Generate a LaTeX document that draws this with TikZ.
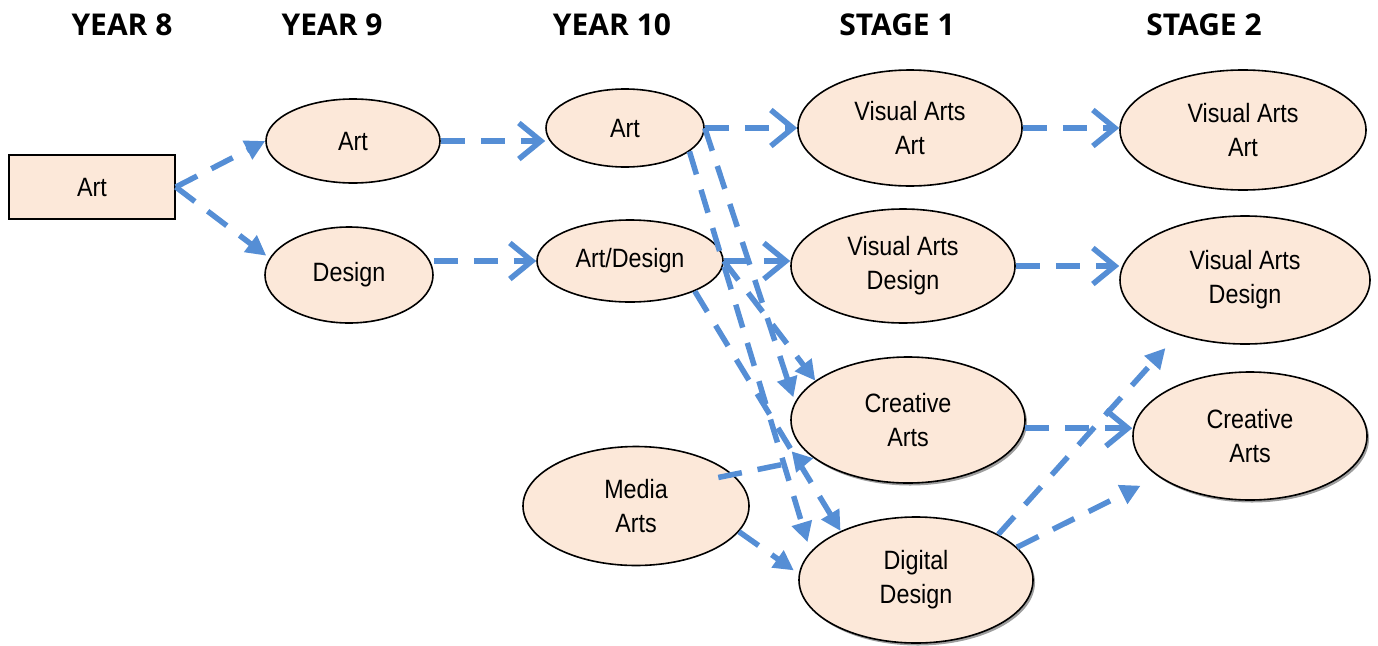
\documentclass[tikz,border=0pt]{standalone}
\usepackage{fontspec}
\newfontfamily\nodefont{Liberation Sans}[FakeStretch=0.88]
\newfontfamily\headfont{Open Sans}
\usetikzlibrary{arrows.meta,calc,shapes.geometric,shadows}
\definecolor{arrowblue}{RGB}{85,142,213}
\definecolor{nodefill}{RGB}{252,232,217}
\begin{document}
\begin{tikzpicture}[x=1pt,y=-1pt,
  box/.style={draw=black, line width=1.6pt, fill=nodefill,
    font=\nodefont\fontsize{26.5}{34}\selectfont, align=center, inner sep=0pt},
  oval/.style 2 args={box, ellipse, minimum width=#1, minimum height=#2},
  shadowed/.style={drop shadow={shadow xshift=2pt, shadow yshift=-2.5pt, fill=black!38, opacity=1}},
  head/.style={font=\headfont\bfseries\fontsize{30}{36}\selectfont, inner sep=0pt, anchor=base},
  conn/.style={draw=arrowblue, line width=5.5pt, dash pattern=on 24pt off 16pt},
  chev/.style={conn, -{Straight Barb[length=22pt,width=36pt,line width=5.5pt]}},
  tri/.style={conn, -{Triangle[length=20pt,width=20pt]}}
]
\useasboundingbox (0,0) rectangle (1378,645);

% headers
\node[head] (h1) at (122,35) {YEAR 8};
\node[head] (h2) at (332,35) {YEAR 9};
\node[head] (h3) at (612,35) {YEAR 10};
\node[head] (h4) at (897,35) {STAGE 1};
\node[head] (h5) at (1204,35) {STAGE 2};

% nodes
\node[box, minimum width=166pt, minimum height=64pt] (y8) at (92,187) {Art};
\node[oval={174pt}{84pt}] (y9a) at (353,141) {Art};
\node[oval={168pt}{96pt}] (y9d) at (349,275) {Design};
\node[oval={158pt}{78pt}] (y10a) at (625,128) {Art};
\node[oval={186pt}{82pt}] (y10d) at (630,261) {Art/Design};
\node[oval={226pt}{119pt}] (med) at (636,506) {Media\\Arts};
\node[oval={224pt}{116pt}] (s1a) at (910,128) {Visual Arts\\Art};
\node[oval={224pt}{114pt}] (s1d) at (903,266) {Visual Arts\\Design};
\node[oval={234pt}{126pt}, shadowed] (s1c) at (908,420) {Creative\\Arts};
\node[oval={234pt}{126pt}, shadowed] (s1g) at (916,580) {Digital\\Design};
\node[oval={246pt}{120pt}] (s2a) at (1243,130) {Visual Arts\\Art};
\node[oval={250pt}{128pt}] (s2d) at (1245,280) {Visual Arts\\Design};
\node[oval={234pt}{128pt}, shadowed] (s2c) at (1250,436) {Creative\\Arts};

% connectors
\draw[tri] (y8.east) -- (y9a.west);
\draw[tri, shorten >=4pt] (y8.east) -- (y9d.168);
\draw[chev] (y9a.east) -- (y9a.east -| y10a.west);
\draw[chev] (y9d.east |- y10d.west) -- (y10d.west);
\draw[chev] (y10a.east) -- (s1a.west);
\draw[chev] (y10d.east) -- (y10d.east -| s1d.west);
\draw[tri, shorten >=5pt] (y10a.east) -- (s1c.171);
\draw[tri, shorten >=10pt] (y10a.-20) -- (s1g.165);
\draw[tri] (y10d.east) -- (s1c.157);
\draw[tri] (y10d.-25) -- (s1g.147);
\draw[tri, shorten <=-15pt] (med.18) -- (s1c.202);
\draw[tri, shorten >=6pt] (med.-14) -- (s1g.177);
\draw[chev] (s1a.east) -- (s1a.east -| s2a.west);
\draw[chev] (s1d.east) -- (s1d.east -| s2d.west);
\draw[chev] (s1c.-4) -- (s1c.-4 -| s2c.west);
\draw[tri, shorten >=18pt] (s1g.29) -- (s2d.219);
\draw[tri, shorten >=20pt] (s1g.18) -- (s2c.204);
\end{tikzpicture}
\end{document}
